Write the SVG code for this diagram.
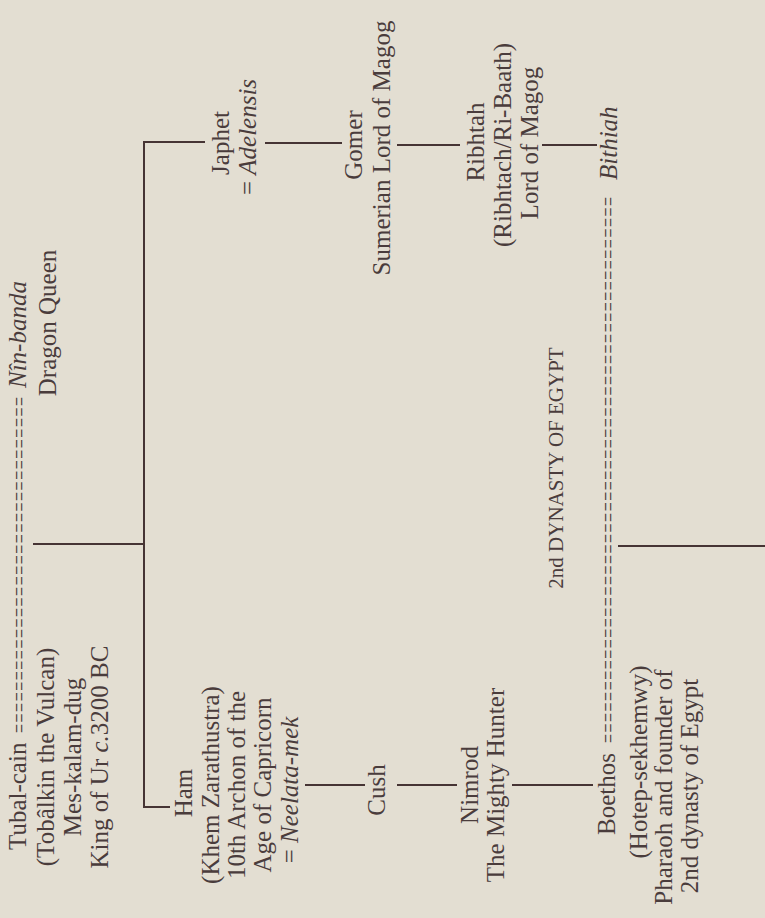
<svg xmlns="http://www.w3.org/2000/svg" width="765" height="918" viewBox="0 0 765 918">
<style>
.t{font-family:"Liberation Serif","DejaVu Serif",serif;font-size:25px;fill:#4a3c3c}
.m{text-anchor:middle}
.i{font-style:italic}
.eq{font-family:"Liberation Serif",serif;font-size:16px;fill:#4f3e3e}
.cap{font-family:"Liberation Serif",serif;font-size:21px;fill:#4a3c3c;text-anchor:middle}
.ln{stroke:#463434;stroke-width:2;fill:none}
</style>
<rect width="765" height="918" fill="#e3ded2"/>
<g id="connectors">
<path class="ln" d="M33,544 H144"/>
<path class="ln" d="M144,142 V807"/>
<path class="ln" d="M143,142 H205"/>
<path class="ln" d="M143,807 H170"/>
<path class="ln" d="M265,143 H342"/>
<path class="ln" d="M397,145 H460"/>
<path class="ln" d="M542,145 H597"/>
<path class="ln" d="M305,785 H365"/>
<path class="ln" d="M397,785 H457"/>
<path class="ln" d="M512,785 H593"/>
<path class="ln" d="M618,546 H765"/>
</g>
<g id="tubalcain">
<text class="t" transform="translate(26,850) rotate(-90)">Tubal-cain</text>
<text class="t m" transform="translate(54,757) rotate(-90)">(Tobâlkin the Vulcan)</text>
<text class="t m" transform="translate(81,757) rotate(-90)">Mes-kalam-dug</text>
<text class="t m" transform="translate(108,757) rotate(-90)">King of Ur  <tspan class="i">c.</tspan>3200 BC</text>
</g>
<g id="marriage1">
<text class="eq" transform="translate(27,733) rotate(-90) scale(1,1.45)" textLength="336" lengthAdjust="spacing">================================</text>
</g>
<g id="ninbanda">
<text class="t i" transform="translate(26,388) rotate(-90)">Nîn-banda</text>
<text class="t m" transform="translate(56,323) rotate(-90)">Dragon Queen</text>
</g>
<g id="japhet">
<text class="t m" transform="translate(229,143) rotate(-90)">Japhet</text>
<text class="t m" transform="translate(256,137) rotate(-90)">= <tspan class="i">Adelensis</tspan></text>
</g>
<g id="gomer">
<text class="t m" transform="translate(362,145) rotate(-90)">Gomer</text>
<text class="t m" transform="translate(390,148) rotate(-90)">Sumerian Lord of Magog</text>
</g>
<g id="ribhtah">
<text class="t m" transform="translate(484,142) rotate(-90)">Ribhtah</text>
<text class="t m" transform="translate(511,145) rotate(-90)">(Ribhtach/Ri-Baath)</text>
<text class="t m" transform="translate(538,143) rotate(-90)">Lord of Magog</text>
</g>
<g id="ham">
<text class="t m" transform="translate(192,793) rotate(-90)">Ham</text>
<text class="t m" transform="translate(219,785) rotate(-90)">(Khem Zarathustra)</text>
<text class="t m" transform="translate(245,785) rotate(-90)">10th Archon of the</text>
<text class="t m" transform="translate(271,785) rotate(-90)">Age of Capricorn</text>
<text class="t m" transform="translate(298,790) rotate(-90)">= <tspan class="i">Neelata-mek</tspan></text>
</g>
<g id="cush">
<text class="t m" transform="translate(385,790) rotate(-90)">Cush</text>
</g>
<g id="nimrod">
<text class="t m" transform="translate(478,785) rotate(-90)">Nimrod</text>
<text class="t m" transform="translate(504,785) rotate(-90)">The Mighty Hunter</text>
</g>
<g id="boethos">
<text class="t" transform="translate(615,835) rotate(-90)">Boethos</text>
<text class="t m" transform="translate(647,762) rotate(-90)">(Hotep-sekhemwy)</text>
<text class="t m" transform="translate(672,787) rotate(-90)">Pharaoh and founder of</text>
<text class="t m" transform="translate(698,786) rotate(-90)">2nd dynasty of Egypt</text>
</g>
<g id="marriage2">
<text class="eq" transform="translate(616,743) rotate(-90) scale(1,1.45)" textLength="546" lengthAdjust="spacing">====================================================</text>
</g>
<g id="bithiah">
<text class="t i" transform="translate(617,180) rotate(-90)">Bithiah</text>
</g>
<g id="dynasty">
<text class="cap" transform="translate(563,468) rotate(-90)">2nd DYNASTY OF EGYPT</text>
</g>
</svg>
